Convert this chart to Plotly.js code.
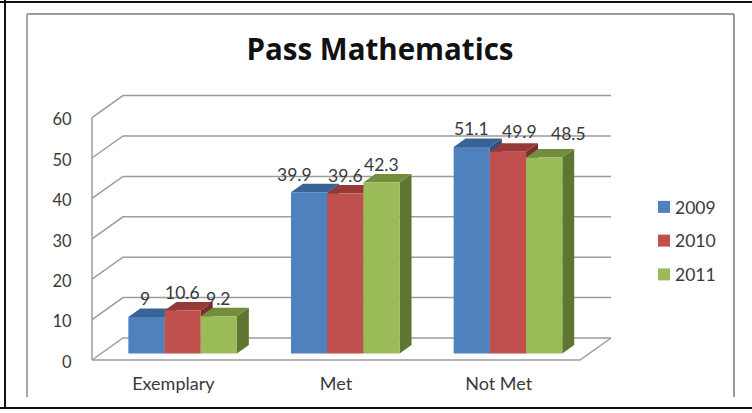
<!DOCTYPE html>
<html>
<head>
<meta charset="utf-8">
<script src="https://cdn.plot.ly/plotly-3.0.1.min.js"></script>
<style>html,body{margin:0;padding:0;background:#fff;}#chart{width:752px;height:413px;}</style>
</head>
<body>
<div id="chart"></div>
<script>
// ---- data ----
const categories = ["Exemplary", "Met", "Not Met"];
const seriesNames = ["2009", "2010", "2011"];
const values2009 = [9, 39.9, 51.1];
const values2010 = [10.6, 39.6, 49.9];
const values2011 = [9.2, 42.3, 48.5];
const yTicks = [0, 10, 20, 30, 40, 50, 60];

// ---- styles ----
const frontColors = ["#4F81BD", "#C0504D", "#9BBB59"];
const topColors = ["#3A6395", "#963A38", "#728E3C"];
const sideColors = ["#2F4F78", "#7A2E2C", "#5F7632"];
const gridColor = "#9C9C9C";
const textColor = "#3A3A3A";
const font = "Lato, 'Open Sans', sans-serif";

// label nudges (px), per series per category
const labelDx = [[-1, -15, 0], [0, 0, 12], [-1, 0, 24]];
const labelDy = [[19, 18, 18], [18, 18, 20], [18, 18, 24]];

// ---- plot box (px) ----
const W = 752, H = 413;
const L = 84, R = 616, T = 90, B = 366;
const pxPerCat = 162.67, pxPerVal = 4.04, originX = 92, originY = 360;
const xRange = [-0.5 + (L - originX) / pxPerCat, -0.5 + (R - originX) / pxPerCat];
const yRange = [(originY - B) / pxPerVal, (originY - T) / pxPerVal];

// oblique depth, in axis units
const depthX = 31 / pxPerCat, depthY = 22 / pxPerVal;
const barW = 0.2225, barFront = 0.3, barDepth = 0.385;
const xLeft = -0.5, xRight = 2.5;

const px = v => (v - L) / (R - L), py = v => (B - v) / (B - T);
const poly = pts => "M" + pts.map(p => p[0] + " " + p[1]).join("L") + "Z";
const line = pts => "M" + pts.map(p => p[0] + " " + p[1]).join("L");

const shapes = [];
// page frame and chart border
const paperLine = (x0, y0, x1, y1, color, width) => shapes.push({
  type: "line", xref: "paper", yref: "paper", layer: "below",
  x0: px(x0), y0: py(y0), x1: px(x1), y1: py(y1), line: {color, width}
});
paperLine(0, 2, W, 2, "#111", 2);
paperLine(5, 0, 5, 408, "#111", 2);
paperLine(0, 408, W, 408, "#111", 2);
paperLine(27, 14, 734, 14, "#9A9A9A", 2);
paperLine(27, 14, 27, 397, "#A8A8A8", 2);
paperLine(734, 14, 734, 397, "#9A9A9A", 2);

const dataPath = (path, style) => shapes.push(Object.assign(
  {type: "path", xref: "x", yref: "y", layer: "below", path}, style));

// walls and floor
const gridStyle = {line: {color: gridColor, width: 1.5}};
yTicks.forEach(v => {
  dataPath(line([[xLeft, v], [xLeft + depthX, v + depthY], [xRight + depthX, v + depthY]]), gridStyle);
});
dataPath(line([[xLeft, 0], [xLeft, yTicks[yTicks.length - 1]]]), gridStyle);
dataPath(line([[xLeft, 0], [xRight, 0], [xRight + depthX, depthY]]), gridStyle);

// 3D faces of the bars (tops and sides); fronts are the bar traces above them
const allValues = [values2009, values2010, values2011];
const barBase = barFront * depthY;
const barShift = barFront * depthX;
const dX = barDepth * depthX, dY = barDepth * depthY;
categories.forEach((c, ci) => {
  allValues.forEach((vals, si) => {
    const x0 = ci + barShift + (si - 1.5) * barW, x1 = x0 + barW;
    const top = barBase + vals[ci];
    dataPath(poly([[x1, barBase], [x1 + dX, barBase + dY], [x1 + dX, top + dY], [x1, top]]),
      {fillcolor: sideColors[si], line: {width: 0}});
    dataPath(poly([[x0, top], [x1, top], [x1 + dX, top + dY], [x0 + dX, top + dY]]),
      {fillcolor: topColors[si], line: {width: 0}});
  });
});

const traces = allValues.map((vals, si) => ({
  type: "bar",
  name: seriesNames[si],
  legendgroup: seriesNames[si],
  x: categories.map((c, i) => i),
  y: vals,
  base: barBase,
  width: barW,
  offset: barShift + (si - 1.5) * barW,
  marker: {color: frontColors[si], line: {width: 0}},
  hoverinfo: "y+name"
}));

const annotations = [];
allValues.forEach((vals, si) => vals.forEach((v, ci) => annotations.push({
  x: ci + barShift + (si - 1) * barW,
  y: barBase + v,
  text: String(v),
  showarrow: false,
  xanchor: "center", yanchor: "middle",
  xshift: labelDx[si][ci], yshift: labelDy[si][ci],
  font: {family: font, size: 17.5, color: textColor}
})));

const layout = {
  width: W, height: H,
  paper_bgcolor: "#fff", plot_bgcolor: "rgba(0,0,0,0)",
  margin: {l: L, r: W - R, t: T, b: H - B, pad: 0},
  barmode: "overlay",
  title: {
    text: "<b>Pass Mathematics</b>",
    x: 380 / W, y: 1 - 50 / H, xref: "container", yref: "container",
    xanchor: "center", yanchor: "middle",
    font: {family: "'Open Sans', Lato, sans-serif", size: 29.5, color: "#111"}
  },
  xaxis: {
    range: xRange, showgrid: false, zeroline: false, showline: false,
    tickmode: "array", tickvals: categories.map((c, i) => i), ticktext: categories,
    ticks: "outside", ticklen: 1, tickcolor: "rgba(0,0,0,0)",
    tickfont: {family: font, size: 18, color: textColor}
  },
  yaxis: {
    range: yRange, showgrid: false, zeroline: false, showline: false,
    tickmode: "array", tickvals: yTicks,
    ticks: "outside", ticklen: 8, tickcolor: "rgba(0,0,0,0)",
    ticklabelshift: 2,
    tickfont: {family: font, size: 16.5, color: textColor}
  },
  legend: {
    x: px(644), y: py(189), xanchor: "left", yanchor: "top",
    tracegroupgap: 8, bgcolor: "rgba(0,0,0,0)",
    font: {family: font, size: 17.5, color: textColor}
  },
  shapes, annotations
};

Plotly.newPlot("chart", traces, layout, {displayModeBar: false, responsive: false}).then(gd => {
  // legend text sits closer to its swatch than the library default
  gd.querySelectorAll(".legendtext").forEach(t => {
    t.setAttribute("x", parseFloat(t.getAttribute("x")) - 9);
  });
});
</script>
</body>
</html>
